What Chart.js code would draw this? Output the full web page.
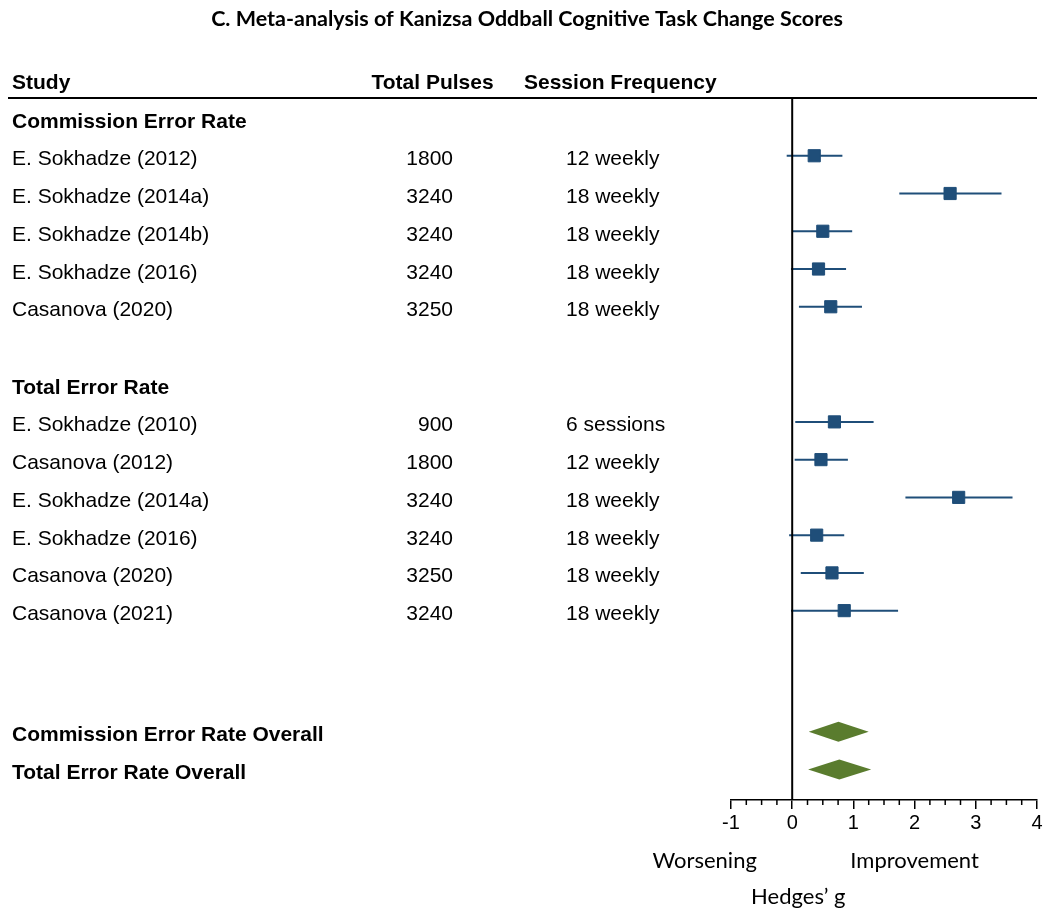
<!DOCTYPE html>
<html>
<head>
<meta charset="utf-8">
<script src="https://cdn.jsdelivr.net/npm/chart.js@4.4.1/dist/chart.umd.min.js"></script>
<style>
  html, body { margin: 0; padding: 0; background: #fff; }
  #wrap { width: 1050px; height: 917px; }
</style>
</head>
<body>
<div id="wrap"><canvas id="forest"></canvas></div>
<script>
// --- data ---
const title = 'C. Meta-analysis of Kanizsa Oddball Cognitive Task Change Scores';
const columnHeaders = ['Study', 'Total Pulses', 'Session Frequency'];

const commissionHeader = 'Commission Error Rate';
const commissionStudies = ['E. Sokhadze (2012)', 'E. Sokhadze (2014a)', 'E. Sokhadze (2014b)', 'E. Sokhadze (2016)', 'Casanova (2020)'];
const commissionPulses = [1800, 3240, 3240, 3240, 3250];
const commissionFreq = ['12 weekly', '18 weekly', '18 weekly', '18 weekly', '18 weekly'];
const commissionG = [0.36, 2.58, 0.50, 0.43, 0.63];
const commissionLo = [-0.09, 1.75, 0.01, -0.02, 0.11];
const commissionHi = [0.82, 3.42, 0.98, 0.88, 1.14];

const totalHeader = 'Total Error Rate';
const totalStudies = ['E. Sokhadze (2010)', 'Casanova (2012)', 'E. Sokhadze (2014a)', 'E. Sokhadze (2016)', 'Casanova (2020)', 'Casanova (2021)'];
const totalPulses = [900, 1800, 3240, 3240, 3250, 3240];
const totalFreq = ['6 sessions', '12 weekly', '18 weekly', '18 weekly', '18 weekly', '18 weekly'];
const totalG = [0.69, 0.47, 2.72, 0.40, 0.65, 0.85];
const totalLo = [0.05, 0.04, 1.85, -0.05, 0.14, -0.02];
const totalHi = [1.33, 0.91, 3.60, 0.85, 1.17, 1.73];

const overallLabels = ['Commission Error Rate Overall', 'Total Error Rate Overall'];
const overallG = [0.755, 0.77];
const overallLo = [0.27, 0.26];
const overallHi = [1.25, 1.29];

const xTicksMin = -1, xTicksMax = 4;
const axisLabels = ['Worsening', 'Improvement', 'Hedges\u2019 g'];

// --- row layout (in row units) ---
const GROUP_GAP = 2.05;
const OVERALL_GAP = 3.21;
const commissionRows = commissionStudies.map((s, i) => i + 1);
const totalHeaderRow = commissionRows[commissionRows.length - 1] + GROUP_GAP;
const totalRows = totalStudies.map((s, i) => totalHeaderRow + i + 1);
const overallRows = overallLabels.map((s, i) => totalRows[totalRows.length - 1] + OVERALL_GAP + i);

const BLUE = '#1f4e79';
const GREEN = '#5a7c2e';
const ARIAL = '"Liberation Sans", Arial, sans-serif';
const CALIBRI = 'Lato, "Open Sans", sans-serif';
const TEXT_DROP = 9.5; // baseline below the row centre

function ciDataset(lo, hi, row) {
    return {
        type: 'line',
        data: [{ x: lo, y: row }, { x: hi, y: row }],
        borderColor: BLUE,
        borderWidth: 2,
        pointRadius: 0,
        order: 2
    };
}

const ciSets = commissionRows.map((r, i) => ciDataset(commissionLo[i], commissionHi[i], r))
    .concat(totalRows.map((r, i) => ciDataset(totalLo[i], totalHi[i], r)));

const pointSet = {
    type: 'scatter',
    data: commissionRows.map((r, i) => ({ x: commissionG[i], y: r }))
        .concat(totalRows.map((r, i) => ({ x: totalG[i], y: r }))),
    pointStyle: 'rect',
    pointRadius: 8.6,
    backgroundColor: BLUE,
    borderColor: BLUE,
    borderWidth: 1,
    order: 1
};

function txt(ctx, s, x, y, font, align) {
    ctx.font = font;
    ctx.textAlign = align || 'left';
    ctx.textBaseline = 'alphabetic';
    ctx.fillStyle = '#000';
    ctx.fillText(s, x, y);
}

const forestPlugin = {
    id: 'forest',
    afterDatasetsDraw(chart) {
        const ctx = chart.ctx;
        const xs = chart.scales.x, ys = chart.scales.y;
        const area = chart.chartArea;
        const rowY = r => ys.getPixelForValue(r) + TEXT_DROP;
        ctx.save();

        // diamonds for the pooled estimates
        ctx.fillStyle = GREEN;
        overallRows.forEach((r, i) => {
            const py = ys.getPixelForValue(r);
            ctx.beginPath();
            ctx.moveTo(xs.getPixelForValue(overallLo[i]), py);
            ctx.lineTo(xs.getPixelForValue(overallG[i]), py - 10);
            ctx.lineTo(xs.getPixelForValue(overallHi[i]), py);
            ctx.lineTo(xs.getPixelForValue(overallG[i]), py + 10);
            ctx.closePath();
            ctx.fill();
        });

        // line of no effect
        ctx.strokeStyle = '#000';
        ctx.lineWidth = 2;
        ctx.beginPath();
        ctx.moveTo(xs.getPixelForValue(0), area.top);
        ctx.lineTo(xs.getPixelForValue(0), area.bottom);
        ctx.stroke();

        // header rule
        ctx.beginPath();
        ctx.moveTo(8, area.top);
        ctx.lineTo(xs.right, area.top);
        ctx.stroke();

        // minor ticks
        ctx.lineWidth = 1.5;
        for (let v = xTicksMin; v <= xTicksMax; v += 0.25) {
            if (Number.isInteger(v)) continue;
            const px = xs.getPixelForValue(v);
            ctx.beginPath();
            ctx.moveTo(px, area.bottom);
            ctx.lineTo(px, area.bottom + 5);
            ctx.stroke();
        }

        const reg = '21px ' + ARIAL, bold = 'bold 21px ' + ARIAL;
        txt(ctx, title, 527, 26, 'bold 21.5px ' + CALIBRI, 'center');
        txt(ctx, columnHeaders[0], 12, 89, bold);
        txt(ctx, columnHeaders[1], 371.5, 89, bold);
        txt(ctx, columnHeaders[2], 524, 89, bold);

        txt(ctx, commissionHeader, 12, rowY(0), bold);
        commissionRows.forEach((r, i) => {
            txt(ctx, commissionStudies[i], 12, rowY(r), reg);
            txt(ctx, String(commissionPulses[i]), 453, rowY(r), reg, 'right');
            txt(ctx, commissionFreq[i], 566, rowY(r), reg);
        });
        txt(ctx, totalHeader, 12, rowY(totalHeaderRow), bold);
        totalRows.forEach((r, i) => {
            txt(ctx, totalStudies[i], 12, rowY(r), reg);
            txt(ctx, String(totalPulses[i]), 453, rowY(r), reg, 'right');
            txt(ctx, totalFreq[i], 566, rowY(r), reg);
        });
        overallRows.forEach((r, i) => {
            txt(ctx, overallLabels[i], 12, rowY(r), bold);
        });

        const low = '22px ' + CALIBRI;
        txt(ctx, axisLabels[0], xs.getPixelForValue(-1.43), 868, low, 'center');
        txt(ctx, axisLabels[1], xs.getPixelForValue(2), 868, low, 'center');
        txt(ctx, axisLabels[2], xs.getPixelForValue(0.1), 904, low, 'center');
        ctx.restore();
    }
};

const ROW_PX = 37.75;
const TOP = 98, BOTTOM = 800, FIRST_ROW_Y = 118;

new Chart(document.getElementById('forest'), {
    type: 'scatter',
    data: { datasets: ciSets.concat([pointSet]) },
    options: {
        responsive: true,
        maintainAspectRatio: false,
        animation: false,
        layout: { padding: { left: 731, right: 13, top: TOP, bottom: 80 } },
        plugins: { legend: { display: false }, tooltip: { enabled: false } },
        scales: {
            x: {
                type: 'linear',
                min: xTicksMin,
                max: xTicksMax,
                border: { color: '#000', width: 1.5 },
                grid: { drawOnChartArea: false, drawTicks: true, tickLength: 9, color: '#000', lineWidth: 1.5 },
                ticks: { stepSize: 1, color: '#000', padding: 2, font: { family: ARIAL, size: 20 } }
            },
            y: {
                type: 'linear',
                display: false,
                reverse: true,
                min: -(FIRST_ROW_Y - TOP) / ROW_PX,
                max: (BOTTOM - FIRST_ROW_Y) / ROW_PX
            }
        }
    },
    plugins: [forestPlugin]
});
</script>
</body>
</html>
